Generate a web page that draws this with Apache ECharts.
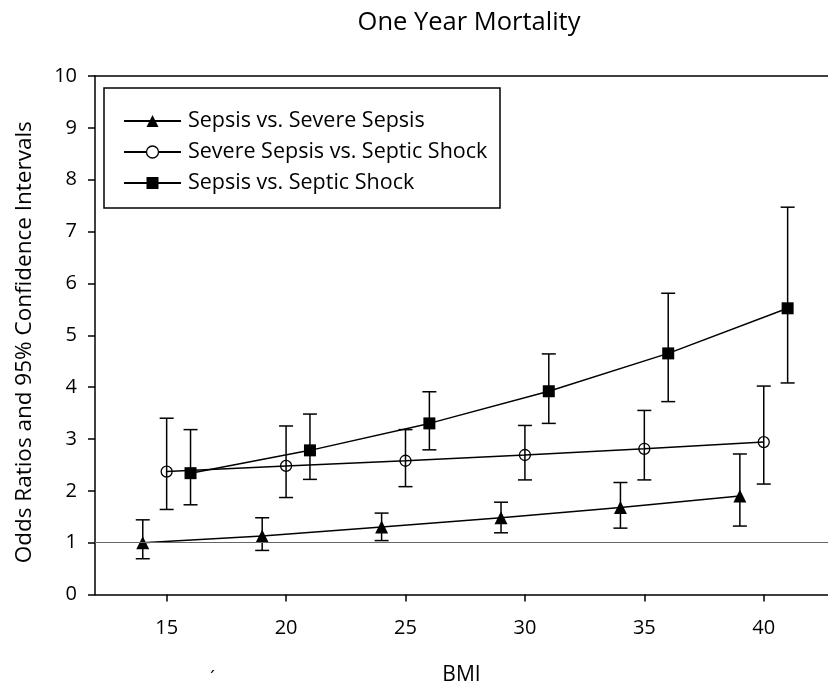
<!DOCTYPE html>
<html><head><meta charset="utf-8">
<script src="https://cdn.jsdelivr.net/npm/echarts@6/dist/echarts.min.js"></script>
<style>html,body{margin:0;padding:0;background:#fff}#c{width:828px;height:685px}</style>
</head><body><div id="c"></div>
<script>
const titleText = 'One Year Mortality';
const xName = 'BMI';
const yName = 'Odds Ratios and 95% Confidence Intervals';
const xTicks = [15, 20, 25, 30, 35, 40];
const yTicks = [0, 1, 2, 3, 4, 5, 6, 7, 8, 9, 10];
const seriesNames = ['Sepsis vs. Severe Sepsis', 'Severe Sepsis vs. Septic Shock', 'Sepsis vs. Septic Shock'];
const triX = [14, 19, 24, 29, 34, 39];
const triY = [1.00, 1.13, 1.30, 1.48, 1.68, 1.90];
const triLo = [0.69, 0.85, 1.04, 1.19, 1.28, 1.32];
const triHi = [1.44, 1.48, 1.57, 1.78, 2.16, 2.71];
const cirX = [15, 20, 25, 30, 35, 40];
const cirY = [2.37, 2.48, 2.58, 2.69, 2.81, 2.94];
const cirLo = [1.64, 1.87, 2.08, 2.21, 2.21, 2.13];
const cirHi = [3.40, 3.25, 3.18, 3.26, 3.55, 4.02];
const sqX = [16, 21, 26, 31, 36, 41];
const sqY = [2.34, 2.78, 3.30, 3.92, 4.65, 5.52];
const sqLo = [1.73, 2.22, 2.79, 3.30, 3.72, 4.08];
const sqHi = [3.18, 3.48, 3.91, 4.64, 5.81, 7.47];
const refLine = 1;

const FONT = 'Open Sans';
const pts = (xs, ys) => xs.map((x, i) => [x, ys[i]]);
const bars = (xs, lo, hi) => xs.map((x, i) => [x, lo[i], hi[i]]);

function errRender(params, api) {
  const x = api.value(0);
  const p1 = api.coord([x, api.value(1)]);
  const p2 = api.coord([x, api.value(2)]);
  const w = 7;
  const st = { stroke: '#000', lineWidth: 1.5 };
  return { type: 'group', children: [
    { type: 'line', shape: { x1: p1[0], y1: p1[1], x2: p2[0], y2: p2[1] }, style: st },
    { type: 'line', shape: { x1: p1[0] - w, y1: p1[1], x2: p1[0] + w, y2: p1[1] }, style: st },
    { type: 'line', shape: { x1: p2[0] - w, y1: p2[1], x2: p2[0] + w, y2: p2[1] }, style: st }
  ]};
}

const chart = echarts.init(document.getElementById('c'), null, { renderer: 'canvas' });
const lineStyle = { color: '#000', width: 1.5 };
chart.setOption({
  animation: false,
  backgroundColor: '#fff',
  textStyle: { fontFamily: FONT, color: '#000' },
  title: { text: titleText, left: 464, top: 5, textAlign: 'center',
    textStyle: { fontFamily: FONT, fontSize: 25.5, fontWeight: 'normal', color: '#000' } },
  grid: { left: 95, right: 0, top: 76, bottom: 90.5, containLabel: false, outerBoundsMode: 'none' },
  legend: {
    orient: 'vertical', left: 118, top: 104, itemWidth: 57, itemHeight: 15, itemGap: 7,
    textStyle: { fontFamily: FONT, fontSize: 21.5, color: '#000', lineHeight: 24, padding: [0, 0, 0, 2] },
    data: [
      { name: seriesNames[0] },
      { name: seriesNames[1], itemStyle: { color: '#fff', borderColor: '#000', borderWidth: 1.3 } },
      { name: seriesNames[2] }
    ]
  },
  xAxis: [{
    type: 'value', min: 12, max: 42.69, position: 'bottom',
    name: xName, nameLocation: 'middle', nameGap: 70,
    nameTextStyle: { fontFamily: FONT, fontSize: 21, color: '#000' },
    axisLine: { show: true, lineStyle: { color: '#000', width: 1.5 } },
    axisTick: { show: true, length: 7, inside: false, customValues: xTicks, lineStyle: { color: '#000', width: 1.5 } },
    axisLabel: { customValues: xTicks, margin: 24, fontFamily: FONT, fontSize: 20, color: '#000' },
    splitLine: { show: false }
  }, {
    type: 'value', min: 12, max: 42.69, position: 'top',
    axisLine: { show: true, lineStyle: { color: '#000', width: 1.5 } },
    axisTick: { show: false }, axisLabel: { show: false }, splitLine: { show: false }
  }],
  yAxis: {
    type: 'value', min: 0, max: 10, interval: 1,
    name: yName, nameLocation: 'middle', nameGap: 59, nameRotate: 90,
    nameTextStyle: { fontFamily: FONT, fontSize: 22.5, color: '#000', padding: [0, 14, 0, 0] },
    axisLine: { show: true, lineStyle: { color: '#000', width: 1.5 } },
    axisTick: { show: true, length: 7, lineStyle: { color: '#000', width: 1.5 } },
    axisLabel: { margin: 18, fontFamily: FONT, fontSize: 20, color: '#000',
      formatter: v => yTicks.includes(v) ? String(v) : '' },
    splitLine: { show: false }
  },
  graphic: [
    { type: 'rect', shape: { x: 104, y: 88, width: 396, height: 120 },
      style: { fill: 'none', stroke: '#000', lineWidth: 1.5 }, z: 10 },
    { type: 'text', x: 210, y: 670, style: { text: '´', font: '18px "Open Sans"', fill: '#000' } }
  ],
  series: [
    { type: 'custom', name: 'eb0', renderItem: errRender, data: bars(triX, triLo, triHi), z: 1, encode: { x: 0, y: [1, 2] } },
    { type: 'custom', name: 'eb1', renderItem: errRender, data: bars(cirX, cirLo, cirHi), z: 1, encode: { x: 0, y: [1, 2] } },
    { type: 'custom', name: 'eb2', renderItem: errRender, data: bars(sqX, sqLo, sqHi), z: 1, encode: { x: 0, y: [1, 2] } },
    { type: 'line', name: seriesNames[0], data: pts(triX, triY), symbol: 'triangle', symbolSize: 13,
      lineStyle: lineStyle, itemStyle: { color: '#000' }, z: 3,
      markLine: { silent: true, symbol: 'none', label: { show: false },
        lineStyle: { color: '#666', width: 1.2, type: 'solid' }, data: [{ yAxis: refLine }] } },
    { type: 'line', name: seriesNames[1], data: pts(cirX, cirY), symbol: 'circle', symbolSize: 11,
      lineStyle: lineStyle, itemStyle: { color: 'rgba(0,0,0,0)', borderColor: '#000', borderWidth: 1.3 }, z: 3 },
    { type: 'line', name: seriesNames[2], data: pts(sqX, sqY), symbol: 'rect', symbolSize: 12,
      lineStyle: lineStyle, itemStyle: { color: '#000' }, z: 3 }
  ]
});
</script>
</body></html>
